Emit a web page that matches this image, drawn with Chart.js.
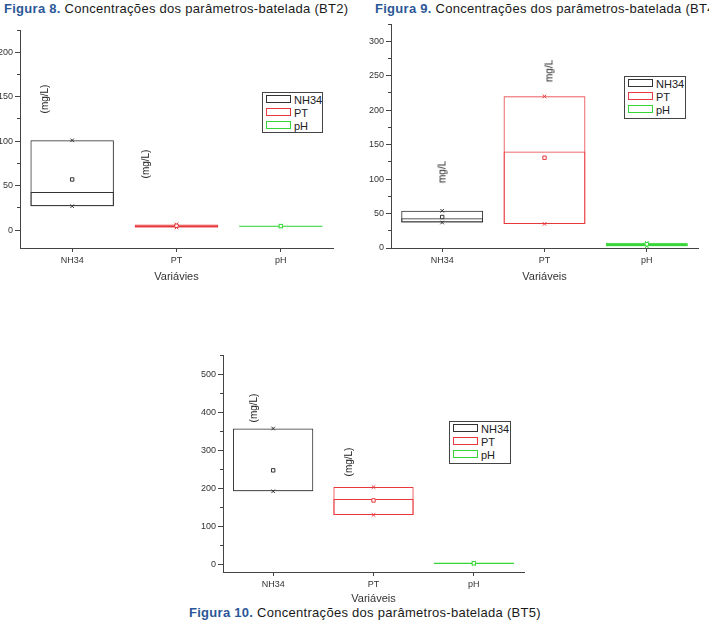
<!DOCTYPE html>
<html>
<head>
<meta charset="utf-8">
<script src="https://cdn.jsdelivr.net/npm/chart.js@4.4.1/dist/chart.umd.min.js"></script>
<style>
  html, body { margin: 0; padding: 0; background: #fff; }
  #page { position: relative; width: 709px; height: 626px; overflow: hidden; background: #fff;
          font-family: "Liberation Sans", Arial, sans-serif; color: #222; }
  #page canvas { position: absolute; }
  .cap { position: absolute; font-size: 13px; letter-spacing: 0.28px; white-space: nowrap; color: #1a1a1a; }
  .cap b { color: #2b5797; }
  .unit { position: absolute; font-size: 10px; white-space: nowrap; color: #222;
          transform: translate(-50%, -50%) rotate(-90deg); }
  .legend { position: absolute; border: 1px solid #444; background: #fff; box-sizing: border-box;
            font-size: 11px; line-height: 13px; padding: 1px 0 0 3px; }
  .legend div { height: 13px; white-space: nowrap; }
  .legend span { display: inline-block; width: 23px; height: 6px; border: 1px solid; margin-right: 3px;
                 vertical-align: 1px; }
</style>
</head>
<body>
<div id="page">
  <div class="cap" style="left:4px;top:1px"><b>Figura 8.</b> Concentrações dos parâmetros-batelada (BT2)</div>
  <div class="cap" style="left:375px;top:1px"><b>Figura 9.</b> Concentrações dos parâmetros-batelada (BT4)</div>
  <div class="cap" style="left:189px;top:605px"><b>Figura 10.</b> Concentrações dos parâmetros-batelada (BT5)</div>

  <canvas id="bt2" width="355" height="264" style="left:-15px;top:20px"></canvas>
  <canvas id="bt4" width="359" height="270" style="left:350px;top:14px"></canvas>
  <canvas id="bt5" width="350" height="261" style="left:180px;top:345px"></canvas>

  <div class="unit" style="left:44px;top:99px">(mg/L)</div>
  <div class="unit" style="left:145px;top:164px">(mg/L)</div>
  <div class="unit" style="left:549px;top:71px">mg/L</div>
  <div class="unit" style="left:442px;top:172px">mg/L</div>
  <div class="unit" style="left:253px;top:408px">(mg/L)</div>
  <div class="unit" style="left:348px;top:462px">(mg/L)</div>

  <div class="legend" id="leg2" style="left:262px;top:92px;width:61px;height:41px"></div>
  <div class="legend" id="leg4" style="left:624px;top:76px;width:62px;height:43px"></div>
  <div class="legend" id="leg5" style="left:449px;top:421px;width:62px;height:43px"></div>
</div>

<script>
// categorias e cores
const categories = ['NH34', 'PT', 'pH'];
const catColors = ['#333333', '#e8383d', '#35d635'];

// BT2 (Figura 8)
const bt2Q1 = [27, 3, 4];
const bt2Q3 = [101, 6.5, 5.2];
const bt2Median = [43, 5, 4.6];
const bt2Mean = [57, 5, 4.6];
const bt2Max = [101, 6.5, 5.2];
const bt2Min = [27, 3, 4];

// BT4 (Figura 9)
const bt4Q1 = [37, 35, 2.5];
const bt4Q3 = [54, 220, 7.5];
const bt4Median = [43, 140, 5];
const bt4Mean = [45, 131, 5.5];
const bt4Max = [54, 220, 7.5];
const bt4Min = [37, 35, 2.5];

// BT5 (Figura 10)
const bt5Q1 = [192, 130, 1];
const bt5Q3 = [357, 203, 5];
const bt5Median = [194, 172, 3];
const bt5Mean = [247, 168, 3];
const bt5Max = [357, 203, 5];
const bt5Min = [192, 130, 1];

// eixos: [min, max, passo menor, passo do rótulo]
const bt2Axis = [-20, 225, 25, 50];
const bt4Axis = [0, 325, 25, 50];
const bt5Axis = [-20, 550, 50, 100];

const FONT = '"Liberation Sans", Arial, sans-serif';

const boxChart = (id, q1, q3, median, mean, max, min, axis, xTitle, dims) => {
  const [yMin, yMax, minorStep, labelStep] = axis;
  const isMajor = v => Math.abs(v % labelStep) < 1e-6;
  const points = (data, style, radius, fill) => ({
    type: 'line', data, showLine: false, order: 0,
    pointStyle: style, pointRadius: radius, pointHoverRadius: radius, pointBorderWidth: 1,
    pointBorderColor: catColors, pointBackgroundColor: fill || catColors
  });
  // caixas muito baixas (poucos px) aparecem como traço cheio
  const boxFill = c => {
    const y = c.chart.scales.y;
    const r = c.raw;
    if (!y || !r) return 'rgba(0,0,0,0)';
    const h = Math.abs(y.getPixelForValue(r[1]) - y.getPixelForValue(r[0]));
    return h < 4 ? catColors[c.dataIndex] : 'rgba(0,0,0,0)';
  };
  const box = data => ({
    data, grouped: false, order: 1,
    backgroundColor: boxFill, borderColor: catColors, borderWidth: 1, borderSkipped: false,
    barPercentage: 0.8, categoryPercentage: 1
  });
  return new Chart(document.getElementById(id), {
    type: 'bar',
    data: {
      labels: categories,
      datasets: [
        points(mean, 'rect', 2.4, '#fff'),
        points(max, 'crossRot', 2.5),
        points(min, 'crossRot', 2.5),
        box(q1.map((v, i) => [v, q3[i]])),
        box(q1.map((v, i) => [v, median[i]]))
      ]
    },
    options: {
      responsive: false,
      animation: false,
      layout: { padding: { top: 10, right: dims.right, left: 0, bottom: 0 } },
      plugins: { legend: { display: false }, tooltip: { enabled: false } },
      scales: {
        x: {
          afterFit: s => { s.height = dims.xh; },
          grid: { offset: false, drawOnChartArea: false, tickLength: 4, tickColor: '#444' },
          border: { color: '#444' },
          ticks: { color: '#333', padding: 3, font: { family: FONT, size: 9 } },
          title: { display: true, text: xTitle, color: '#333', padding: 0, font: { family: FONT, size: 11 } }
        },
        y: {
          min: yMin, max: yMax,
          afterFit: s => { s.width = dims.yw; },
          grid: {
            drawOnChartArea: false, tickLength: 5, tickColor: '#444',
            tickBorderDash: c => isMajor(c.tick.value) ? [] : [3, 10],
            tickBorderDashOffset: c => isMajor(c.tick.value) ? 0 : 11
          },
          border: { color: '#444' },
          ticks: {
            stepSize: minorStep, includeBounds: false, padding: 2, color: '#333',
            font: { family: FONT, size: 9 },
            callback: v => isMajor(v) ? v : ''
          }
        }
      }
    }
  });
};

boxChart('bt2', bt2Q1, bt2Q3, bt2Median, bt2Mean, bt2Max, bt2Min, bt2Axis, 'Variávies', { yw: 35, xh: 36, right: 7 });
boxChart('bt4', bt4Q1, bt4Q3, bt4Median, bt4Mean, bt4Max, bt4Min, bt4Axis, 'Variáveis', { yw: 41, xh: 36, right: 11 });
boxChart('bt5', bt5Q1, bt5Q3, bt5Median, bt5Mean, bt5Max, bt5Min, bt5Axis, 'Variáveis', { yw: 43, xh: 34, right: 6 });

// legendas
['leg2', 'leg4', 'leg5'].forEach(id => {
  document.getElementById(id).innerHTML = categories
    .map((c, i) => `<div><span style="border-color:${catColors[i]}"></span>${c}</div>`).join('');
});
</script>
</body>
</html>
